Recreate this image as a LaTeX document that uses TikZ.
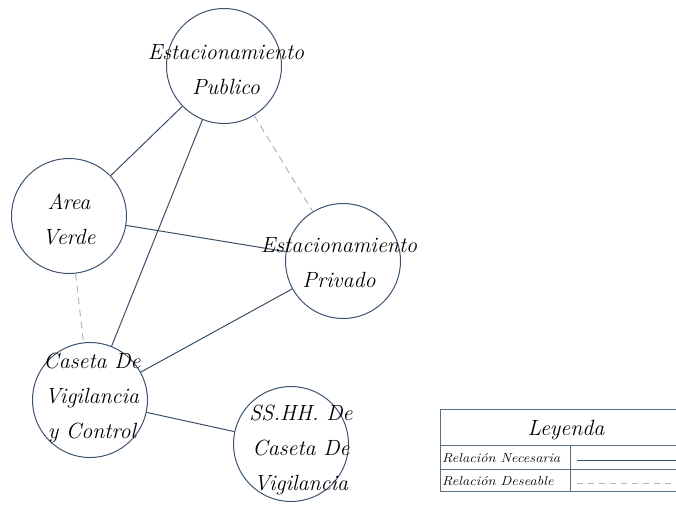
\documentclass[tikz,border=0pt]{standalone}
\usepackage{fontspec}
\begin{document}
\begin{tikzpicture}[x=1pt,y=-1pt,
  circ/.style={circle,draw=circ,line width=1pt,minimum size=115pt,inner sep=0pt},
  lbl/.style={align=center,inner sep=0pt,font=\itshape\fontsize{22}{35}\selectfont},
  need/.style={draw=edge,line width=1pt},
  want/.style={draw=soft,line width=1pt,dash pattern=on 7pt off 5pt},
  leg/.style={draw=legc,line width=0.8pt},
  legtxt/.style={anchor=west,inner sep=0pt,font=\itshape\fontsize{13}{14}\selectfont}]
\definecolor{circ}{HTML}{3C5470}
\definecolor{edge}{HTML}{3A5068}
\definecolor{soft}{HTML}{A3B6CA}
\definecolor{legc}{HTML}{5A6E82}
\newcommand{\wide}[2]{\scalebox{#1}[1]{#2}}
\useasboundingbox (0,0) rectangle (676,507);
\node[circ] (ep) at (224,66) {};
\node[circ] (av) at (69,216) {};
\node[circ] (pr) at (343,261) {};
\node[circ] (cv) at (90,400) {};
\node[circ] (ss) at (291,444) {};
\draw[need] (ep) -- (av);
\draw[need] (ep) -- (cv);
\draw[want] (ep) -- (pr);
\draw[need] (av) -- (pr);
\draw[want] (av) -- (cv);
\draw[need] (pr) -- (cv);
\draw[need] (cv) -- (ss);
\node[lbl] (ept) at (226,70) {Estacionamiento\\Publico};
\node[lbl] (avt) at (69,219) {Area\\Verde};
\node[lbl] (prt) at (339,263) {Estacionamiento\\Privado};
\node[lbl] (cvt) at (92,398) {Caseta De\\Vigilancia\\y Control};
\node[lbl] (sst) at (301,450) {SS.HH. De\\Caseta De\\Vigilancia};
% legend
\coordinate (l1) at (440,409);
\coordinate (l2) at (680,491);
\draw[leg] (l1) rectangle (l2);
\draw[leg] (440,445) -- (680,445);
\draw[leg] (440,469) -- (680,469);
\draw[leg] (570,445) -- (570,491);
\node[inner sep=0pt,font=\itshape\fontsize{22}{24}\selectfont] (lt) at (566,430) {Leyenda};
\node[legtxt] (ln) at (442,458) {\wide{1.12}{Relación Necesaria}};
\node[legtxt] (ld) at (442,481) {\wide{1.12}{Relación Deseable}};
\coordinate (s1) at (577,460);
\coordinate (s2) at (676,460);
\coordinate (d1) at (577,483);
\coordinate (d2) at (676,483);
\draw[need] (s1) -- (s2);
\draw[draw=soft,line width=0.8pt,dash pattern=on 6pt off 5pt] (d1) -- (d2);
\end{tikzpicture}
\end{document}
